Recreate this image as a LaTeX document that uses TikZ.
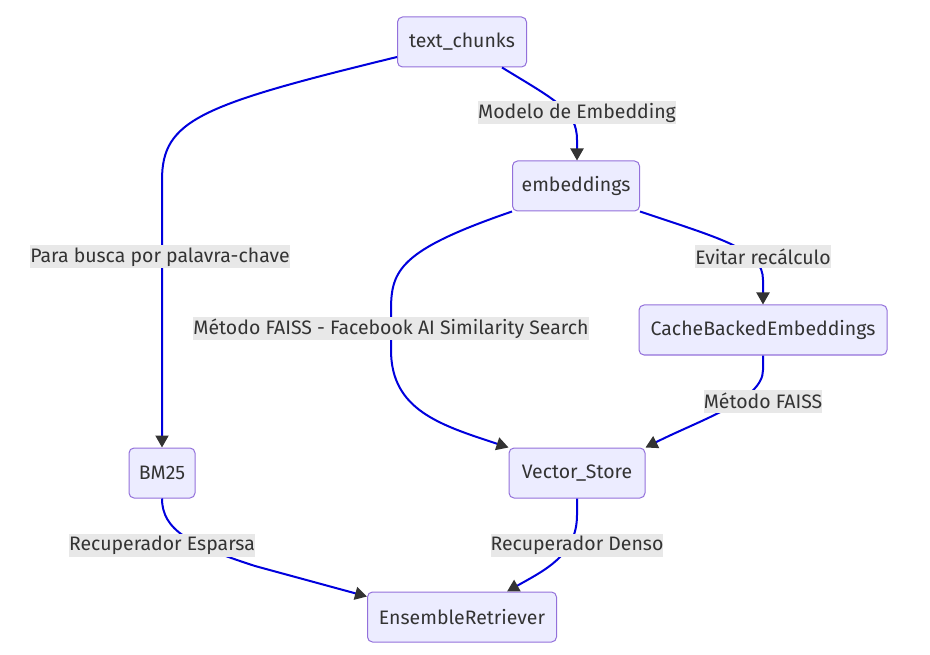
\documentclass[tikz,border=0pt]{standalone}
\usepackage{fontspec}
\setmainfont{Fira Sans}
\usetikzlibrary{arrows.meta,calc}
\definecolor{nodefill}{HTML}{ECECFF}
\definecolor{nodeborder}{HTML}{9370DB}
\definecolor{edgeblue}{HTML}{0000DD}
\definecolor{tipgray}{HTML}{333333}
\definecolor{txt}{HTML}{333333}
\definecolor{lblbg}{HTML}{E8E8E8}
\tikzset{
  box/.style={draw=nodeborder, fill=nodefill, line width=0.75pt, rounded corners=3.75pt,
    minimum height=37.5pt, inner sep=0pt, text=txt, font=\fontsize{14.6}{16}\selectfont},
  lbl/.style={fill=lblbg, inner xsep=0pt, inner ysep=0pt, minimum height=17.25pt, text=txt,
    font=\fontsize{14.6}{16}\selectfont},
  conn/.style={draw=edgeblue, line width=1.5pt, -{Triangle[length=9pt,width=9.75pt,color=tipgray]}},
}
\begin{document}
\begin{tikzpicture}[x=0.75pt,y=-0.75pt]
\useasboundingbox (0,0) rectangle (930,655);
% nodes
\node[box, minimum width=96.75pt] (tc) at (462,42) {text\_chunks};
\node[box, minimum width=95.25pt] (emb) at (576,186) {embeddings};
\node[box, minimum width=186pt] (cbe) at (763,330) {CacheBackedEmbeddings};
\node[box, minimum width=102pt] (vs) at (577,473) {Vector\_Store};
\node[box, minimum width=49.5pt] (bm) at (162,473) {BM25};
\node[box, minimum width=141.75pt] (er) at (462,617) {EnsembleRetriever};
% connectors
\draw[conn] ($(tc.west)+(0,15)$) .. controls (200,105) and (162,120) .. (162,180) -- (bm.north);
\draw[conn] ($(tc.south)+(40,0)$) .. controls (555,100) and (577,110) .. (577,140) -- ($(emb.north)+(1,0)$);
\draw[conn] ($(emb.south west)$) .. controls (400,250) and (391,270) .. (391,310) -- (391,350) .. controls (391,410) and (440,425) .. ($(vs.north west)$);
\draw[conn] ($(emb.south east)$) .. controls (725,240) and (763,250) .. (763,280) -- (cbe.north);
\draw[conn] (cbe.south) -- (763,370) .. controls (763,400) and (700,420) .. ($(vs.north east)$);
\draw[conn] (bm.south) .. controls (162,530) and (190,545) .. (255,566) -- ($(er.north west)+(0,5)$);
\draw[conn] (vs.south) -- (577,515) .. controls (577,555) and (545,570) .. ($(er.north)+(45,0)$);
% labels
\node[lbl] (l1) at (577,113) {Modelo de Embedding};
\node[lbl] (l2) at (160,257) {Para busca por palavra-chave};
\node[lbl] (l3) at (391,329) {Método FAISS - Facebook AI Similarity Search};
\node[lbl] (l4) at (763,257) {Evitar recálculo};
\node[lbl] (l5) at (763,401) {Método FAISS};
\node[lbl] (l6) at (162,545) {Recuperador Esparsa};
\node[lbl] (l7) at (577,545) {Recuperador Denso};
\end{tikzpicture}
\end{document}
